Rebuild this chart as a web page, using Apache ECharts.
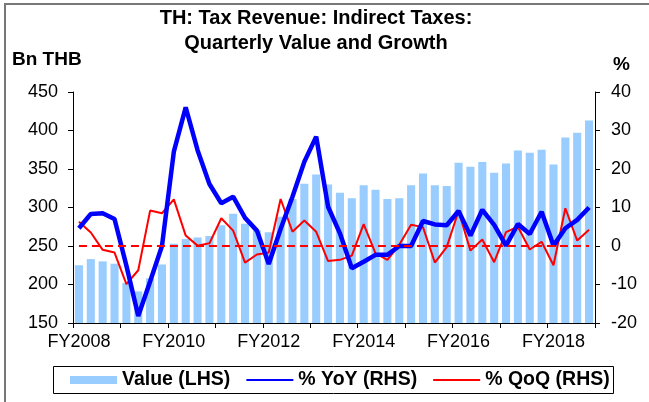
<!DOCTYPE html>
<html>
<head>
<meta charset="utf-8">
<script src="https://cdn.jsdelivr.net/npm/echarts@6/dist/echarts.min.js"></script>
<style>
  html, body { margin: 0; padding: 0; background: #fff; }
  #chart { width: 649px; height: 402px; }
</style>
</head>
<body>
<div id="chart"></div>
<script>
// fiscal years shown on the chart, one category per quarter
const years = [2008, 2009, 2010, 2011, 2012, 2013, 2014, 2015, 2016, 2017, 2018];
const quarters = [];
years.forEach(y => {
  ["Q1", "Q2", "Q3", "Q4"].forEach(q => quarters.push("FY" + y + " " + q));
});

// indirect tax revenue, Bn THB (LHS)
const valueLHS = [
  225, 233, 230, 227, 202, 191, 208, 226, 253, 259, 261, 263,
  277, 292, 279, 270, 268, 288, 311, 331, 343, 330, 319, 312,
  329, 323, 311, 312, 329, 344, 329, 328, 358, 353, 359, 345,
  357, 374, 371, 375, 356, 391, 397, 413
];

// % YoY (RHS)
const yoy = [
  4.6, 8.3, 8.5, 7.0, -5.1, -18.2, -9.2, 0.0, 24.5, 36.0, 24.9, 16.1,
  11.1, 12.8, 7.3, 4.0, -4.7, 4.4, 12.8, 21.9, 28.4, 10.2, 3.3, -5.8,
  -4.1, -2.3, -2.3, 0.0, 0.0, 6.5, 5.6, 5.4, 9.1, 2.7, 9.4, 5.5,
  0.1, 5.7, 3.1, 8.9, 0.1, 4.6, 6.8, 10.0
];

// % QoQ (RHS)
const qoq = [
  6.3, 3.5, -1.0, -1.7, -9.9, -6.3, 9.2, 8.5, 12.1, 2.7, 0.1, 0.7,
  7.2, 4.0, -4.3, -2.2, -1.7, 12.2, 3.7, 6.6, 3.7, -3.9, -3.6, -2.5,
  5.7, -1.9, -3.6, 0.3, 5.5, 4.9, -4.3, -0.3, 9.1, -1.2, 1.7, -4.2,
  3.6, 5.0, -0.9, 1.1, -5.0, 9.8, 1.4, 4.2
];

const FONT = "Liberation Sans, Arial, sans-serif";

const chart = echarts.init(document.getElementById("chart"), null, { renderer: "canvas" });

const option = {
  animation: false,
  backgroundColor: "#fff",
  graphic: [
    // outer frame (only top and left edges fall inside the picture)
    {
      type: "rect",
      shape: { x: 5, y: 4, width: 700, height: 500 },
      style: { fill: null, stroke: "#777", lineWidth: 2 },
      silent: true
    },
    // legend box
    {
      type: "rect",
      shape: { x: 53.5, y: 366.5, width: 560, height: 27 },
      style: { fill: null, stroke: "#000", lineWidth: 1 },
      silent: true
    },
    // two line title, centred a bit left of the page middle
    {
      type: "text",
      x: 316,
      y: 6,
      style: {
        text: "TH: Tax Revenue: Indirect Taxes:\nQuarterly Value and Growth",
        font: "bold 20px " + FONT,
        fill: "#000",
        align: "center",
        textAlign: "center",
        verticalAlign: "top",
        lineHeight: 25
      }
    },
    {
      type: "text",
      left: 12,
      top: 50,
      style: { text: "Bn THB", font: "bold 19px " + FONT, fill: "#000" }
    },
    {
      type: "text",
      left: 613,
      top: 55,
      style: { text: "%", font: "bold 19px " + FONT, fill: "#000" }
    }
  ],
  legend: {
    left: 70,
    top: 370,
    padding: 0,
    itemGap: 15,
    itemWidth: 47,
    itemHeight: 8,
    textStyle: { fontFamily: FONT, fontSize: 19.5, fontWeight: "bold", color: "#000" },
    data: [
      { name: "Value (LHS)", icon: "rect" },
      { name: "% YoY (RHS)", itemStyle: { opacity: 0 } },
      { name: "% QoQ (RHS)", itemStyle: { opacity: 0 } }
    ]
  },
  grid: { left: 73, right: 54, top: 92, bottom: 79 },
  xAxis: {
    type: "category",
    data: quarters,
    boundaryGap: true,
    // keep the axis at the bottom, not on the RHS zero
    axisLine: { onZero: false, lineStyle: { color: "#000", width: 1 } },
    axisTick: { show: true, interval: 3, length: 5, lineStyle: { color: "#000" } },
    axisLabel: {
      interval: 7,
      margin: 10,
      fontFamily: FONT,
      fontSize: 18,
      color: "#000",
      formatter: v => v.split(" ")[0]
    },
    splitLine: { show: false }
  },
  yAxis: [
    {
      type: "value",
      min: 150,
      max: 450,
      interval: 50,
      axisLine: { show: true, lineStyle: { color: "#000" } },
      axisTick: { show: true, length: 5, lineStyle: { color: "#000" } },
      axisLabel: { margin: 15, fontFamily: FONT, fontSize: 18, color: "#000" },
      splitLine: { show: false }
    },
    {
      type: "value",
      min: -20,
      max: 40,
      interval: 10,
      position: "right",
      axisLine: { show: true, lineStyle: { color: "#000" } },
      axisTick: { show: true, length: 5, lineStyle: { color: "#000" } },
      axisLabel: { margin: 16, fontFamily: FONT, fontSize: 18, color: "#000" },
      splitLine: { show: false }
    }
  ],
  series: [
    {
      name: "Value (LHS)",
      type: "bar",
      yAxisIndex: 0,
      data: valueLHS,
      barCategoryGap: "32%",
      itemStyle: { color: "#99CCFF" },
      z: 1
    },
    {
      name: "% YoY (RHS)",
      type: "line",
      yAxisIndex: 1,
      data: yoy,
      symbol: "none",
      lineStyle: { color: "#0000FF", width: 4.5 },
      itemStyle: { color: "#0000FF" },
      z: 4
    },
    {
      name: "% QoQ (RHS)",
      type: "line",
      yAxisIndex: 1,
      data: qoq,
      symbol: "none",
      lineStyle: { color: "#FF0000", width: 2 },
      itemStyle: { color: "#FF0000" },
      z: 3,
      markLine: {
        silent: true,
        symbol: ["none", "none"],
        label: { show: false },
        lineStyle: { color: "#FF0000", type: [8, 5], width: 2 },
        data: [[{ coord: [0, 0] }, { coord: [quarters.length - 1, 0] }]]
      }
    }
  ]
};

chart.setOption(option);
</script>
</body>
</html>
